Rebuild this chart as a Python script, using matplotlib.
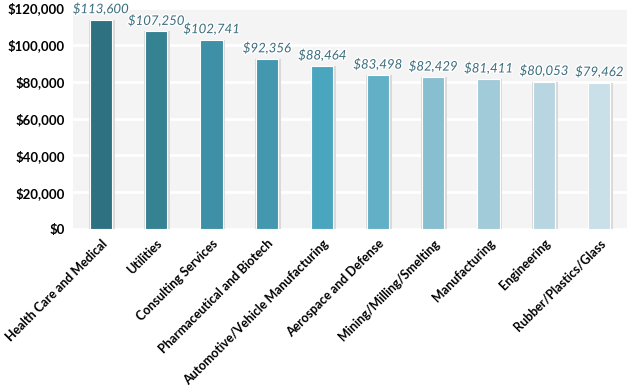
import matplotlib
matplotlib.use("Agg")
import matplotlib.pyplot as plt
import matplotlib.patheffects as pe

industries = [
    "Health Care and Medical", "Utilities", "Consulting Services",
    "Pharmaceutical and Biotech", "Automotive/Vehicle Manufacturing",
    "Aerospace and Defense", "Mining/Milling/Smelting", "Manufacturing",
    "Engineering", "Rubber/Plastics/Glass",
]
salaries = [113600, 107250, 102741, 92356, 88464, 83498, 82429, 81411, 80053, 79462]
colors = ["#2e7282", "#358293", "#3d90a5", "#4398b0", "#4aa6bf",
          "#62b0c6", "#88bfd0", "#a2cbda", "#b8d6e2", "#c9e0e8"]

fig = plt.figure(figsize=(6.28, 3.89), dpi=100)
ax = fig.add_axes([73 / 628, 1 - 229 / 389, 554 / 628, 221 / 389])
ax.set_facecolor("#f4f4f4")

x = range(len(industries))
# soft shadow behind each bar
ax.bar([i + 0.02 for i in x], salaries, width=0.46, color="#d9d9d9", zorder=2)
ax.bar(x, salaries, width=0.4, color=colors, edgecolor="white", linewidth=0.8, zorder=3)

for i, v in enumerate(salaries):
    ax.text(i, v + 2500, f"${v:,}", ha="center", va="bottom", fontsize=9.5,
            style="italic", color="#3b6d7d", family="Lato", zorder=4,
            path_effects=[pe.withStroke(linewidth=2, foreground="white")],
            clip_on=False)

ax.set_ylim(0, 120000)
ax.set_xlim(-0.5, 9.5)
ax.set_yticks(range(0, 120001, 20000))
ax.set_yticklabels([f"${t:,}" for t in range(0, 120001, 20000)],
                   fontsize=9.5, fontweight="bold", family="Lato")
ax.yaxis.grid(True, color="white", linewidth=2)
ax.set_axisbelow(True)
ax.set_xticks(list(x))
ax.set_xticklabels(industries, rotation=45, ha="right", rotation_mode="anchor",
                   fontsize=9, fontweight="bold", family="Lato")
ax.tick_params(length=0, pad=6)
for s in ax.spines.values():
    s.set_visible(False)

fig.savefig("out.png", dpi=100)
